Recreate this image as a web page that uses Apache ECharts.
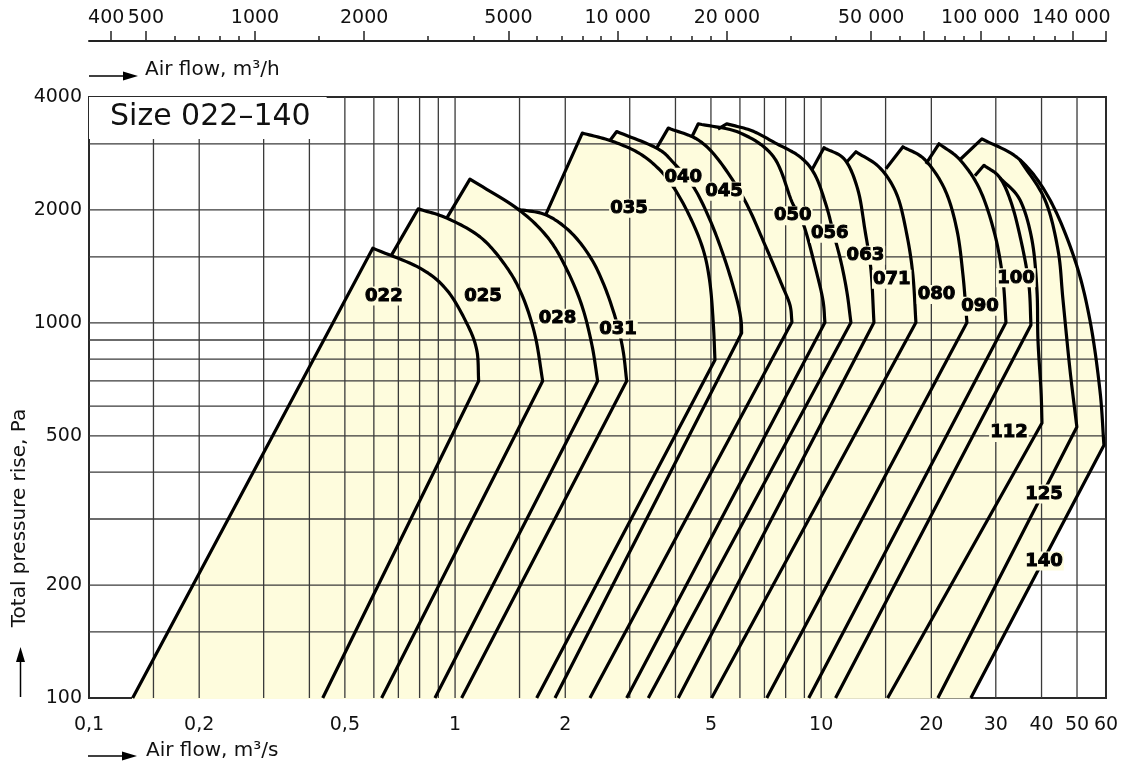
<!DOCTYPE html>
<html><head><meta charset="utf-8">
<script src="https://cdn.jsdelivr.net/npm/echarts@6/dist/echarts.min.js"></script>
<style>html,body{margin:0;padding:0;background:#fff}#c{width:1122px;height:769px}</style>
</head><body><div id="c"></div>
<script>
// ---- data (air flow m3/s, total pressure Pa) ----
const sizes = ['022','025','028','031','035','040','045','050','056','063','071','080','090','100','112','125','140'];
const leftFoot = 0.1316; // left foot of size 022 at 100 Pa
const leftStart = [[0.1316,100],[0.671,1518],[0.949,1902],[1.488,2007],[1.768,1941],[2.649,3063],[3.553,2923],[4.437,3133],[5.225,3286],[9.44,2558],[11.76,2688],[15.03,2574],[19.33,2655],[26.31,2466],[30.79,2436],[34.91,2721],[23.94,2721]];
const peaks = [[0.596,1581],[0.793,2013],[1.098,2416],[1.488,2007],[2.226,3205],[2.764,3236],[3.823,3305],[4.617,3394],[5.52,3394],[10.18,2929],[12.45,2858],[16.73,2947],[20.98,3002],[27.85,2630],[30.79,2436],[34.91,2721],[27.49,3095]];
const arcs = [
  [[0.802,1399],[0.949,1224],[1.076,998],[1.146,847]],
  [[0.949,1902],[1.170,1695],[1.369,1427],[1.523,1187],[1.653,928]],
  [[1.488,2007],[1.794,1685],[2.022,1384],[2.222,1109],[2.365,873]],
  [[1.768,1941],[2.060,1752],[2.336,1502],[2.551,1262],[2.752,1018],[2.875,847]],
  [[2.649,3063],[3.133,2858],[3.553,2606],[3.945,2305],[4.382,1917],[4.764,1565],[4.968,1278],[5.074,999]],
  [[3.553,2923],[3.945,2676],[4.474,2309],[4.968,1882],[5.461,1472],[5.889,1151],[6.039,1018]],
  [[4.608,3076],[5.292,2688],[6.193,2115],[7.023,1614],[7.814,1262],[8.218,1116]],
  [[6.00,3210],[7.413,2771],[8.321,2102],[8.974,1814],[9.678,1384],[10.11,1151]],
  [[6.471,3251],[7.478,3020],[8.752,2771],[9.618,2481],[10.31,2064],[10.84,1716],[11.33,1454],[11.76,1209]],
  [[11.61,2721],[12.60,2263],[13.17,1770],[13.68,1384]],
  [[14.47,2590],[16.11,2194],[17.15,1716],[17.81,1342]],
  [[19.21,2721],[21.79,2263],[23.49,1770],[24.40,1342]],
  [[23.94,2721],[27.16,2263],[29.84,1716],[31.38,1302]],
  [[30.79,2436],[33.20,2064],[35.36,1614],[36.95,1262]],
  [[34.91,2128],[37.66,1664],[38.86,1224],[39.11,900],[39.86,662]],
  [[40.87,2128],[44.36,1565],[45.78,1151],[47.84,749]],
  [[34.91,2721],[42.17,2128],[49.33,1472],[54.22,1018],[57.74,662]]
];
const corners = [[1.160,700],[1.735,700],[2.452,700],[2.943,700],[5.128,796],[6.065,940],[8.321,1006],[10.24,1002],[12.06,1002],[13.94,1002],[18.15,1002],[25.02,1002],[31.98,1002],[37.42,987],[40.11,541],[49.95,528],[59.22,472]];
const rightFoot = [0.435,0.630,0.881,1.042,1.671,1.875,2.336,2.943,3.371,4.071,5.022,7.103,9.249,10.95,15.19,20.84,25.64];
const labelPos = [[0.639,1180],[1.192,1180],[1.905,1029],[2.786,963],[2.985,2022],[4.201,2443],[5.427,2242],[8.364,1931],[10.56,1732],[13.21,1515],[15.59,1306],[20.65,1191],[27.16,1107],[34.05,1318],[32.58,510],[40.61,350],[40.61,232]];

const gridQ = [0.15,0.2,0.3,0.4,0.5,0.6,0.7,0.8,0.9,1,1.5,2,3,4,5,6,7,8,9,10,15,20,30,40,50];
const gridP = [150,200,300,400,500,600,700,800,900,1000,1500,2000,3000];
const xLabels = [0.1,0.2,0.5,1,2,5,10,20,30,40,50,60];
const yLabels = [100,200,500,1000,2000,4000];
const topMajor = [400,500,1000,2000,5000,10000,20000,50000,70000,100000,180000,222000];
const topMinor = [600,700,800,900,1500,3000,4000,6000,7000,8000,9000,12000,14000,16000,18000,30000,40000,60000,80000,90000,120000,140000,160000];
const topLabelValues = [400,500,1000,2000,5000,10000,20000,50000,100000,140000];
const topLabelText = ['400','500','1000','2000','5000','10 000','20 000','50 000','100 000','140 000'];

const FILL = '#fefcdd';
const FONT = 'DejaVu Sans';

function spline(pts){
  const n = pts.length, out = [pts[0]];
  const P = i => i < 0 ? [2*pts[0][0]-pts[1][0], 2*pts[0][1]-pts[1][1]]
           : i >= n ? [2*pts[n-1][0]-pts[n-2][0], 2*pts[n-1][1]-pts[n-2][1]] : pts[i];
  for (let i = 0; i < n-1; i++) {
    const p0=P(i-1), p1=P(i), p2=P(i+1), p3=P(i+2);
    for (let k = 1; k <= 12; k++) {
      const t=k/12, t2=t*t, t3=t2*t;
      const f = j => 0.5*(2*p1[j] + (-p0[j]+p2[j])*t + (2*p0[j]-5*p1[j]+4*p2[j]-p3[j])*t2 + (-p0[j]+3*p1[j]-3*p2[j]+p3[j])*t3);
      out.push([f(0), f(1)]);
    }
  }
  return out;
}
function outline(i, api){
  const c = v => api.coord(v);
  const curve = spline([c(peaks[i])].concat(arcs[i].map(c), [c(corners[i])]));
  return [c(leftStart[i])].concat(curve, [c([rightFoot[i], 100])]);
}

const chart = echarts.init(document.getElementById('c'), null, {renderer:'canvas'});
chart.setOption({
  animation: false,
  backgroundColor: '#fff',
  title: {
    text: 'Size 022–140', left: 89, top: 97,
    padding: [3, 16, 5, 21], backgroundColor: '#fff',
    textStyle: {fontFamily: FONT, fontSize: 30, fontWeight: 'normal', color: '#111', lineHeight: 34},
    z: 10
  },
  grid: [
    {left: 89, top: 97, width: 1017, height: 601, show: true, borderColor: '#2a2a2a', borderWidth: 2, backgroundColor: 'transparent'},
    {left: 89, top: 41, width: 1017, height: 10, show: false}
  ],
  xAxis: [
    {gridIndex: 0, type: 'log', logBase: 10, min: 0.1, max: 60,
     axisLine: {show: false}, axisTick: {show: false}, splitLine: {show: false},
     axisLabel: {customValues: xLabels, margin: 18, fontFamily: FONT, fontSize: 19, color: '#111',
       formatter: v => String(Math.round(v*1000)/1000).replace('.', ',')}},
    {gridIndex: 1, type: 'log', logBase: 10, min: 348.5, max: 222000, position: 'top',
     axisLine: {show: true, onZero: false, lineStyle: {color: '#222', width: 2}},
     axisTick: {show: true, customValues: topMajor, length: 10, lineStyle: {color: '#222', width: 1.5}},
     splitLine: {show: false},
     axisLabel: {customValues: topLabelValues, margin: 13, fontFamily: FONT, fontSize: 19, color: '#111',
       formatter: v => {
         const k = topLabelValues.findIndex(t => Math.abs(t - v) / t < 1e-3);
         const s = k >= 0 ? topLabelText[k] : '';
         if (k === 0) return '{l|' + s + '}';
         if (k === topLabelValues.length - 1) return '{r|' + s + '}';
         return s;
       },
       rich: {
         l: {fontFamily: FONT, fontSize: 19, color: '#111', padding: [0, 9, 0, 0]},
         r: {fontFamily: FONT, fontSize: 19, color: '#111', padding: [0, 0, 0, 76]}
       }}},
    {gridIndex: 1, type: 'log', logBase: 10, min: 348.5, max: 222000, position: 'top',
     axisLine: {show: false, onZero: false},
     axisTick: {show: true, customValues: topMinor, length: 5, lineStyle: {color: '#222', width: 1.5}},
     axisLabel: {show: false}, splitLine: {show: false}}
  ],
  yAxis: [
    {gridIndex: 0, type: 'log', logBase: 10, min: 100, max: 4000,
     axisLine: {show: false}, axisTick: {show: false}, splitLine: {show: false},
     axisLabel: {customValues: yLabels, margin: 7, fontFamily: FONT, fontSize: 19, color: '#111',
       formatter: v => String(Math.round(v))}},
    {gridIndex: 1, type: 'value', show: false}
  ],
  series: [
    { // fills
      type: 'custom', xAxisIndex: 0, yAxisIndex: 0, z: 1, silent: true,
      data: peaks,
      renderItem: (params, api) => {
        const pts = outline(params.dataIndex, api);
        pts.unshift(api.coord([leftFoot, 100]));
        return {type: 'polygon', shape: {points: pts}, style: {fill: FILL, stroke: FILL, lineWidth: 1}};
      }
    },
    { // vertical grid lines
      type: 'custom', xAxisIndex: 0, yAxisIndex: 0, z: 2, silent: true,
      data: gridQ.map(q => [q, 100]),
      renderItem: (params, api) => {
        const a = api.coord([gridQ[params.dataIndex], 100]), b = api.coord([gridQ[params.dataIndex], 4000]);
        return {type: 'line', shape: {x1: a[0], y1: a[1], x2: b[0], y2: b[1]}, style: {stroke: '#3a3a3a', lineWidth: 1.3}};
      }
    },
    { // horizontal grid lines
      type: 'custom', xAxisIndex: 0, yAxisIndex: 0, z: 2, silent: true,
      data: gridP.map(p => [0.1, p]),
      renderItem: (params, api) => {
        const a = api.coord([0.1, gridP[params.dataIndex]]), b = api.coord([60, gridP[params.dataIndex]]);
        return {type: 'line', shape: {x1: a[0], y1: a[1], x2: b[0], y2: b[1]}, style: {stroke: '#3a3a3a', lineWidth: 1.3}};
      }
    },
    { // outlines
      type: 'custom', xAxisIndex: 0, yAxisIndex: 0, z: 3, silent: true,
      data: peaks,
      renderItem: (params, api) => ({
        type: 'polyline', shape: {points: outline(params.dataIndex, api)},
        style: {stroke: '#000', lineWidth: 3.2, fill: 'none', lineJoin: 'round', lineCap: 'butt'}
      })
    },
    { // size labels
      type: 'scatter', xAxisIndex: 0, yAxisIndex: 0, z: 5, silent: true,
      symbolSize: 1, itemStyle: {color: FILL, opacity: 1},
      data: labelPos.map((v, i) => ({name: sizes[i], value: v})),
      label: {show: true, position: 'inside', formatter: p => p.name, opacity: 1,
        fontFamily: FONT, fontWeight: 'bold', fontSize: 18, color: '#000',
        textBorderColor: '#000', textBorderWidth: 1,
        backgroundColor: FILL, padding: [1, 1, 0, 1]}
    }
  ],
  graphic: [
    {type: 'line', shape: {x1: 89, y1: 76, x2: 125, y2: 76}, style: {stroke: '#000', lineWidth: 1.5}},
    {type: 'polygon', shape: {points: [[123, 71.5], [138, 76], [123, 80.5]]}, style: {fill: '#000'}},
    {type: 'text', x: 145, y: 70, style: {text: 'Air flow, m³/h', fontFamily: FONT, fontSize: 20, fill: '#111', verticalAlign: 'middle', align: 'left'}},
    {type: 'line', shape: {x1: 88, y1: 756, x2: 124, y2: 756}, style: {stroke: '#000', lineWidth: 1.5}},
    {type: 'polygon', shape: {points: [[122, 751.5], [137, 756], [122, 760.5]]}, style: {fill: '#000'}},
    {type: 'text', x: 146, y: 751, style: {text: 'Air flow, m³/s', fontFamily: FONT, fontSize: 20, fill: '#111', verticalAlign: 'middle', align: 'left'}},
    {type: 'text', x: 20, y: 518, rotation: Math.PI / 2, style: {text: 'Total pressure rise, Pa', fontFamily: FONT, fontSize: 20, fill: '#111', verticalAlign: 'middle', align: 'center'}},
    {type: 'line', shape: {x1: 20.5, y1: 697, x2: 20.5, y2: 660}, style: {stroke: '#000', lineWidth: 1.5}},
    {type: 'polygon', shape: {points: [[16, 662], [20.5, 647], [25, 662]]}, style: {fill: '#000'}}
  ]
});
</script>
</body></html>
